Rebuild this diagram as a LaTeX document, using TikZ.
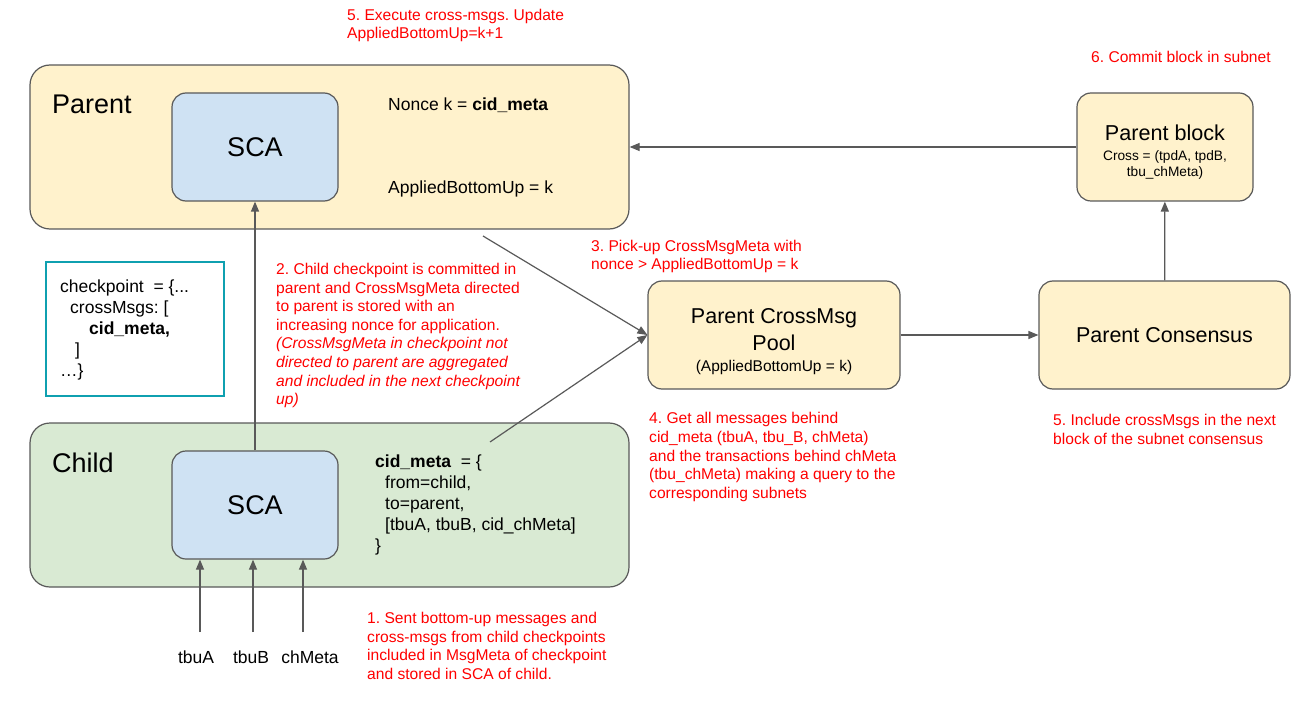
\documentclass[tikz,border=0pt]{standalone}
\usepackage{fontspec}
\setmainfont{Liberation Sans}
\usepackage{tikz}
\usetikzlibrary{arrows.meta}
\frenchspacing
\definecolor{parentfill}{HTML}{FFF2CC}
\definecolor{childfill}{HTML}{D9EAD3}
\definecolor{scafill}{HTML}{CFE2F3}
\definecolor{edge}{HTML}{595959}
\definecolor{teal}{HTML}{0FA0B0}
\tikzset{
    net/.style={draw=edge, line width=1.2pt, rounded corners=20pt, inner sep=0pt}, % 子网大框
    box/.style={draw=edge, line width=1.2pt, rounded corners=14pt, inner sep=0pt, align=center}, % 圆角方框
    arr/.style={draw=edge, line width=1.2pt, -{Triangle[length=10pt, width=8pt]}}, % 箭头
    note/.style={text=red, align=left, inner sep=0pt, font=\fontsize{15.6}{18.6}\selectfont}, % 红色说明
    txt/.style={align=left, inner sep=0pt, font=\fontsize{17.5}{21}\selectfont} % 黑色文字
}

\begin{document}
\begin{tikzpicture}[x=1pt, y=-1pt]
    \useasboundingbox (0,0) rectangle (1308,703);

    % 父子网与子子网
    \node[net, fill=parentfill, minimum width=599pt, minimum height=164pt] (parent) at (329.5,147) {};
    \node[net, fill=childfill, minimum width=599pt, minimum height=164pt] (child) at (329.5,505) {};
    \node[txt, anchor=west, font=\fontsize{27}{32}\selectfont] (parentlbl) at (52,104) {Parent};
    \node[txt, anchor=west, font=\fontsize{27}{32}\selectfont] (childlbl) at (52,463) {Child};
    \node[box, fill=scafill, minimum width=166pt, minimum height=108pt, font=\fontsize{27}{32}\selectfont] (psca) at (255,147) {SCA};
    \node[box, fill=scafill, minimum width=166pt, minimum height=108pt, font=\fontsize{27}{32}\selectfont] (csca) at (255,505) {SCA};

    \node[txt, anchor=west] (nonce) at (388,105) {Nonce k = \textbf{cid\_meta}};
    \node[txt, anchor=west] (applied) at (388,189) {AppliedBottomUp = k};
    \node[txt, anchor=west] (cidmeta) at (375,505) {\textbf{cid\_meta}\ \ = \{\\
        \hspace{10pt}from=child,\\
        \hspace{10pt}to=parent,\\
        \hspace{10pt}[tbuA, tbuB, cid\_chMeta]\\
        \}};

    % checkpoint
    \node[draw=teal, line width=1.2pt, minimum width=178pt, minimum height=134pt] (ckptbox) at (135,329) {};
    \node[txt, anchor=west] (ckpt) at (60,330) {checkpoint\ \ = \{...\\
        \hspace{10pt}crossMsgs: [\\
        \hspace{29pt}\textbf{cid\_meta,}\\
        \hspace{15pt}]\\
        …\}};

    % 右侧方框
    \node[box, fill=parentfill, minimum width=176pt, minimum height=108pt, font=\fontsize{13.7}{16}\selectfont] (pblock) at (1165,147)
        {\rule{0pt}{26pt}{\fontsize{21.6}{26}\selectfont Parent block}\\[4pt]
         Cross = (tpdA, tpdB,\\
         tbu\_chMeta)};
    \node[box, fill=parentfill, minimum width=252pt, minimum height=108pt, font=\fontsize{15.5}{18}\selectfont] (pool) at (774,335)
        {\rule{0pt}{28pt}{\fontsize{21.5}{26}\selectfont Parent CrossMsg}\\[5.5pt]
         {\fontsize{21.5}{26}\selectfont Pool}\\[3pt]
         (AppliedBottomUp = k)};
    \node[box, fill=parentfill, minimum width=251pt, minimum height=108pt, font=\fontsize{21.5}{26}\selectfont] (cons) at (1164.5,335) {Parent Consensus};

    % 连线
    \draw[arr] (pblock) -- (parent.east |- pblock.west);
    \draw[arr] (cons) -- (pblock);
    \draw[arr] (pool) -- (cons);
    \draw[arr] (csca) -- (psca);
    \coordinate (fromparent) at (483,236);
    \coordinate (fromchild) at (490,442);
    \draw[arr] (fromparent) -- (pool.west);
    \draw[arr] (fromchild) -- (pool.west);
    \foreach \n/\x/\lx in {tbuA/200/196, tbuB/253/251, chMeta/303/310} {
        \node[txt] (\n) at (\lx,657) {\n};
        \coordinate (\n-s) at (\x,632);
        \draw[arr] (\n-s) -- (\n-s |- csca.south);
    }

    % 红色步骤说明
    \node[note, anchor=west] (step1) at (367,646) {1. Sent bottom-up messages and\\cross-msgs from child checkpoints\\included in MsgMeta of checkpoint\\and stored in SCA of child.};
    \node[note, anchor=west] (step2) at (276,335.5) {2. Child checkpoint is committed in\\parent and CrossMsgMeta directed\\to parent is stored with an\\increasing nonce for application.\\
        \textit{(CrossMsgMeta in checkpoint not}\\\textit{directed to parent are aggregated}\\\textit{and included in the next checkpoint}\\\textit{up)}};
    \node[note, anchor=west] (step3) at (591,256.5) {3. Pick-up CrossMsgMeta with\\nonce > AppliedBottomUp = k};
    \node[note, anchor=west] (step4) at (649,457) {4. Get all messages behind\\cid\_meta (tbuA, tbu\_B, chMeta)\\and the transactions behind chMeta\\(tbu\_chMeta) making a query to the\\corresponding subnets};
    \node[note, anchor=west] (step5a) at (1053,429.5) {5. Include crossMsgs in the next\\block of the subnet consensus};
    \node[note, anchor=west] (step5b) at (347,25.5) {5. Execute cross-msgs. Update\\AppliedBottomUp=k+1};
    \node[note, anchor=west] (step6) at (1091,57) {6. Commit block in subnet};
\end{tikzpicture}
\end{document}
